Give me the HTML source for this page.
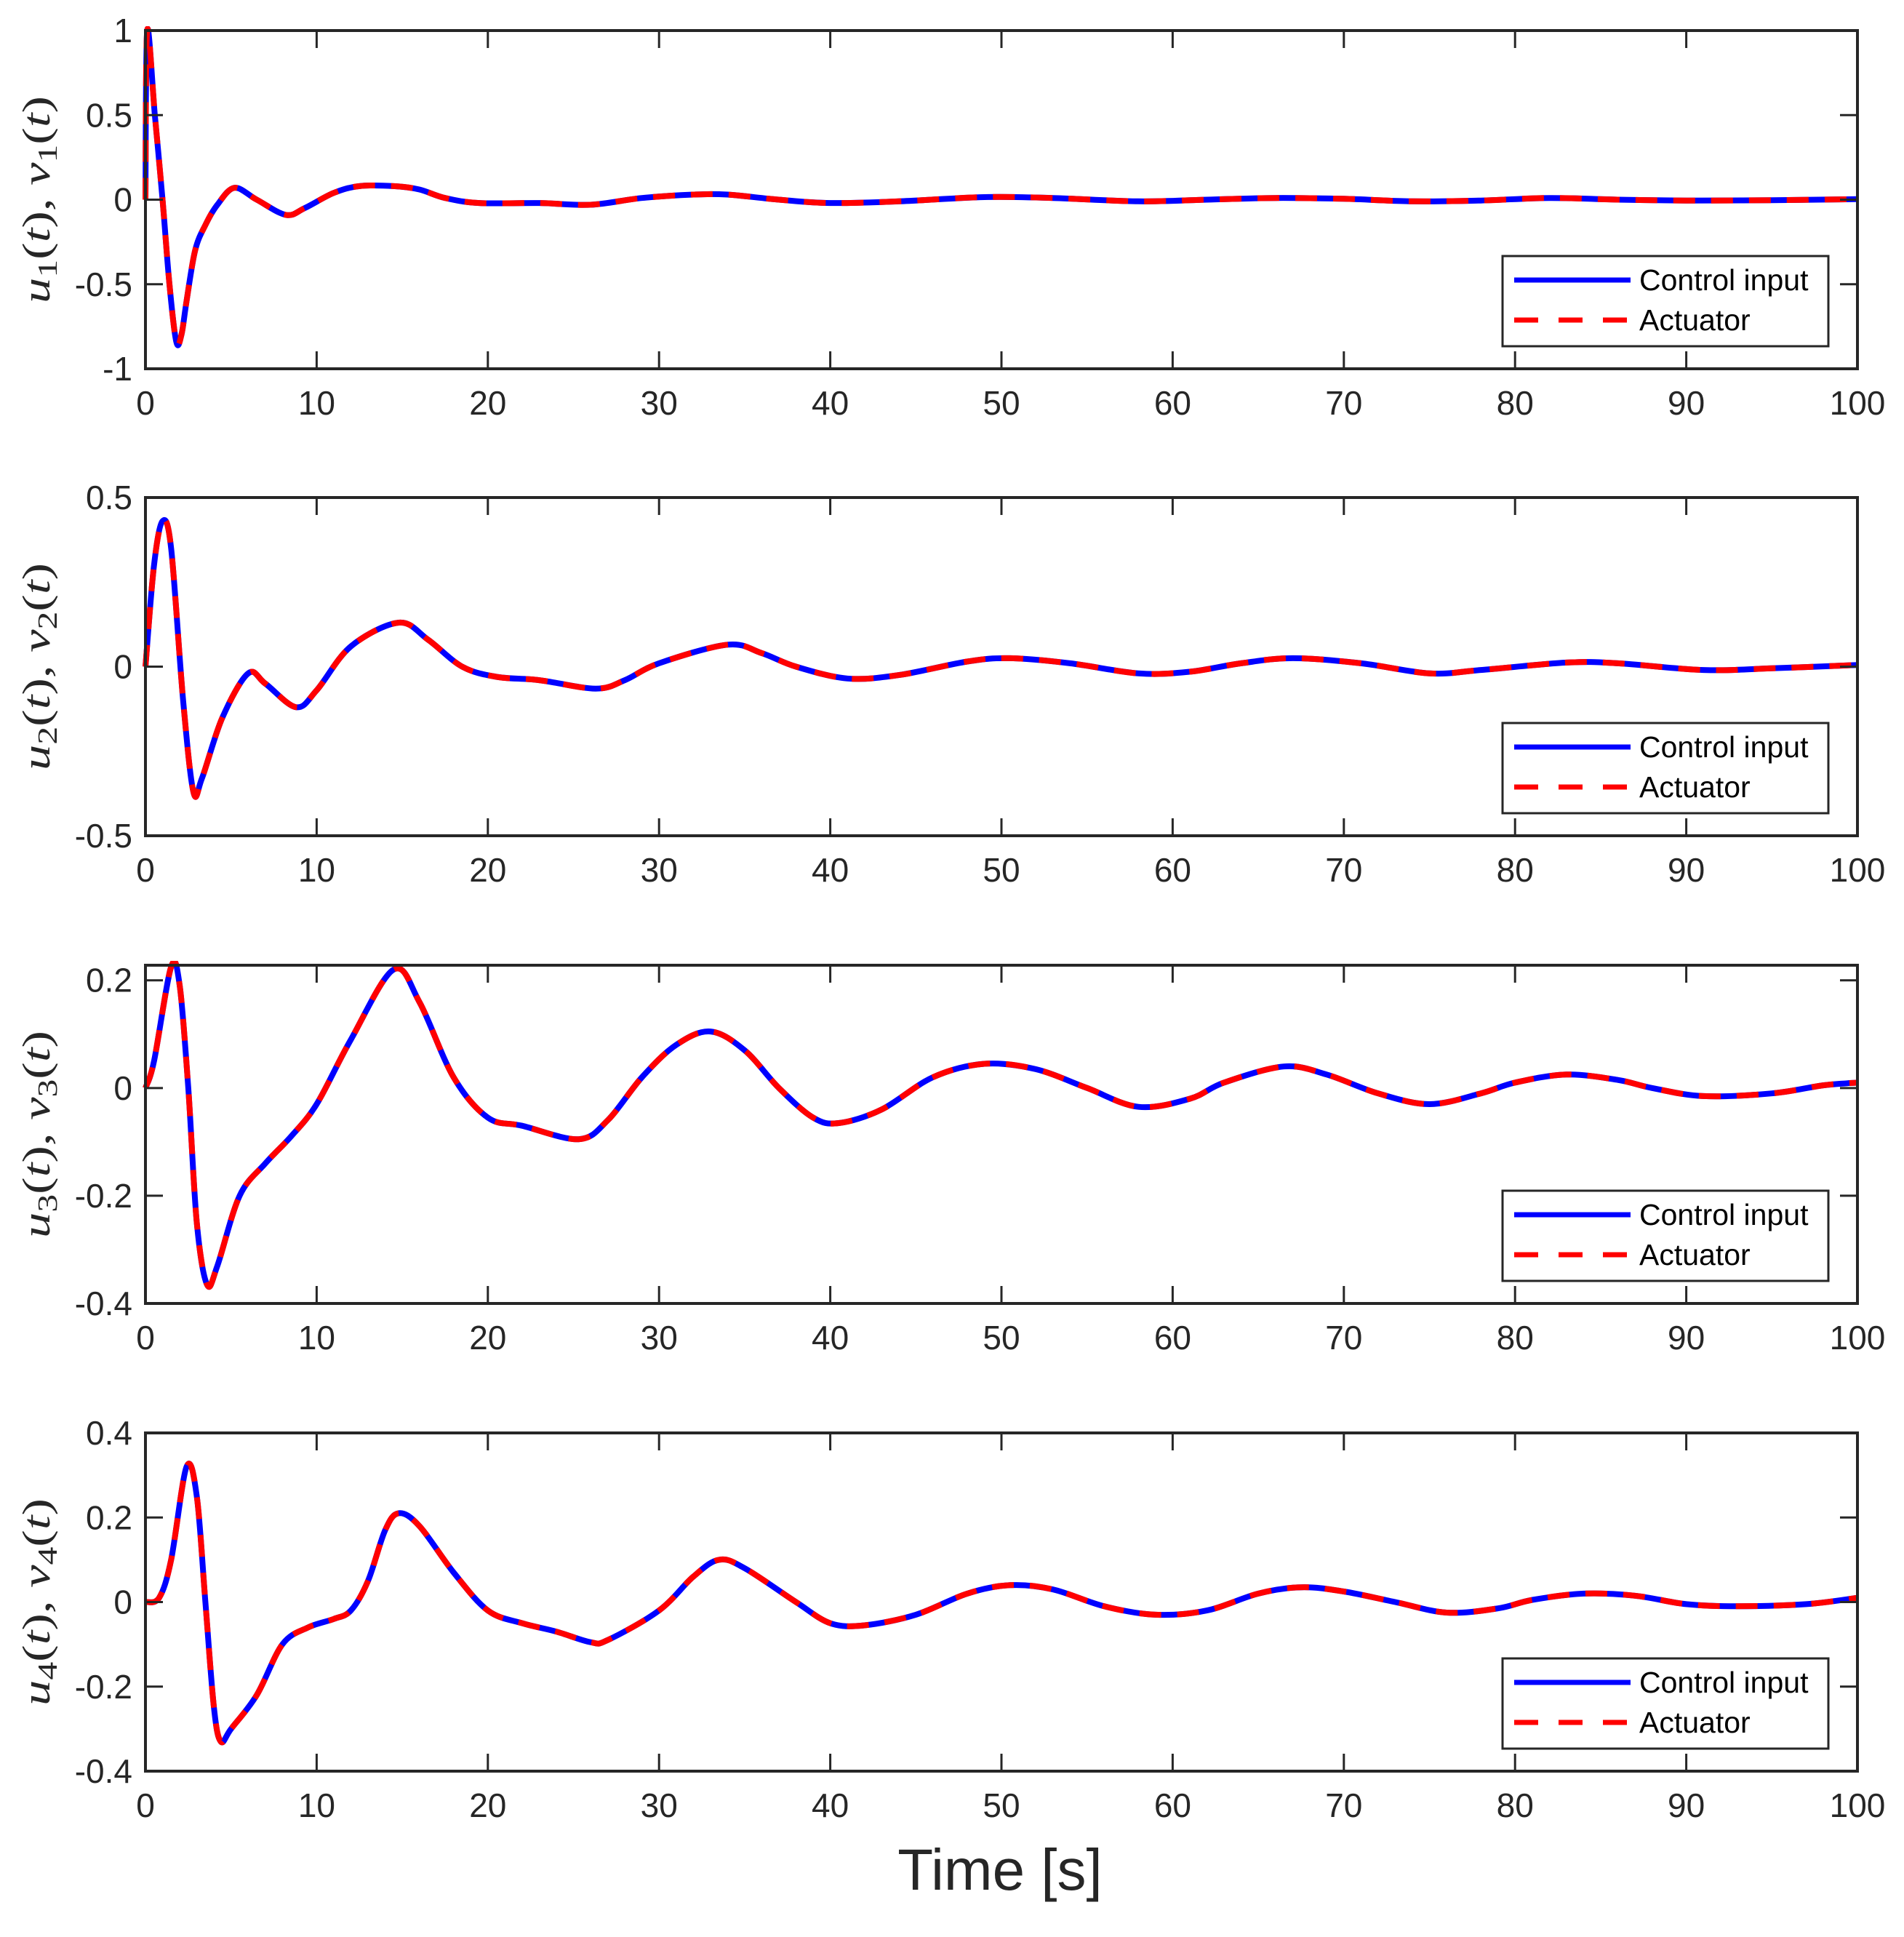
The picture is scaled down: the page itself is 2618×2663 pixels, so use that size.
<!DOCTYPE html>
<html><head><meta charset="utf-8"><style>
html,body{margin:0;padding:0;background:#fff;}
svg{display:block;}
</style></head><body>
<svg id="fig" width="2618" height="2663" viewBox="0 0 2618 2663" xmlns="http://www.w3.org/2000/svg"></svg>
<script>
// ---- data ----
const xTicks = [0,10,20,30,40,50,60,70,80,90,100];
const p1T = [0,0.1,0.55,1.0,1.4,1.8,2.1,2.4,2.9,3.5,4.2,5.2,6.5,8.2,9.3,11,12.5,14.5,16,17.5,19.5,23,26,29,32,34,37,40,44,49,53,58,62,66,70,74,78,82,86,90,95,100];
const p1V = [0,1.0,0.5,0.0,-0.5,-0.84,-0.8,-0.6,-0.3,-0.15,-0.03,0.07,0.0,-0.09,-0.05,0.04,0.08,0.08,0.06,0.01,-0.02,-0.02,-0.03,0.01,0.03,0.03,0.0,-0.02,-0.01,0.015,0.01,-0.01,0.0,0.01,0.005,-0.01,-0.005,0.01,0.0,-0.005,-0.003,0.003];
const p2T = [0,0.5,1.0,1.5,2.2,2.8,3.3,4.5,6.0,7.0,8.8,10,12,14.8,16.5,18.5,20.5,23,26.3,28,30,34,36,38,41,44,48,50.5,54,58,61,64,67,71,75,78,83,86,91,95,100];
const p2V = [0,0.3,0.43,0.35,-0.1,-0.37,-0.33,-0.15,-0.02,-0.05,-0.12,-0.07,0.06,0.13,0.08,0.0,-0.03,-0.04,-0.065,-0.04,0.01,0.065,0.04,0.0,-0.035,-0.025,0.015,0.025,0.01,-0.02,-0.015,0.01,0.025,0.01,-0.02,-0.01,0.012,0.01,-0.01,-0.005,0.005];
const p3T = [0,0.5,1.5,2.0,2.5,3.0,3.6,4.2,5.5,7,8.5,10,12,14.5,16,18,20,22,25.3,27,29,31,33,35,37,39,40.5,43,46,49,52,55,58,61,63,66.5,69,72,75,78,80,83,86,88,91,95,98,100];
const p3V = [0,0.05,0.225,0.19,0.0,-0.25,-0.365,-0.33,-0.2,-0.14,-0.09,-0.03,0.09,0.22,0.16,0.02,-0.055,-0.07,-0.095,-0.06,0.02,0.08,0.105,0.07,0.0,-0.055,-0.065,-0.04,0.02,0.045,0.035,0.0,-0.035,-0.02,0.01,0.04,0.025,-0.01,-0.03,-0.01,0.01,0.025,0.015,0.0,-0.015,-0.01,0.005,0.01];
const p4T = [0,0.8,1.5,2.4,3.0,3.5,4.0,4.4,5.0,6.5,8,9.5,11,12,13,14,14.8,16,18,20,22,24,26,27,30,32,33.5,35,38,40,42,45,48,50.5,53,56,59,62,65,67.5,70,73,76,79,81,84,87,90,93,97,100];
const p4V = [0,0.01,0.1,0.32,0.25,0.0,-0.25,-0.33,-0.3,-0.22,-0.1,-0.06,-0.04,-0.02,0.05,0.17,0.21,0.18,0.07,-0.02,-0.05,-0.07,-0.095,-0.09,-0.02,0.06,0.1,0.08,0.0,-0.05,-0.055,-0.03,0.02,0.04,0.03,-0.01,-0.03,-0.02,0.02,0.035,0.025,0.0,-0.025,-0.015,0.005,0.02,0.015,-0.005,-0.01,-0.005,0.01];
const yTicks1 = [-1,-0.5,0,0.5,1];
const yTicks2 = [-0.5,0,0.5];
const yTicks3 = [-0.4,-0.2,0,0.2];
const yTicks4 = [-0.4,-0.2,0,0.2,0.4];
const legendLabels = ["Control input","Actuator"];

const NS="http://www.w3.org/2000/svg";
const svg=document.getElementById('fig');
function mk(tag,attrs,parent){const e=document.createElementNS(NS,tag);for(const k in attrs)e.setAttribute(k,attrs[k]);(parent||svg).appendChild(e);return e;}

const X0=200,X1=2554,H=465;
const panels=[
 {top:42,ymin:-1,ymax:1,ticks:yTicks1,T:p1T,V:p1V,n:1},
 {top:684,ymin:-0.5,ymax:0.5,ticks:yTicks2,T:p2T,V:p2V,n:2},
 {top:1327,ymin:-0.4,ymax:0.228,ticks:yTicks3,T:p3T,V:p3V,n:3},
 {top:1970,ymin:-0.4,ymax:0.4,ticks:yTicks4,T:p4T,V:p4V,n:4}
];
function fmt(v){return (Math.round(v*10)/10).toString();}

panels.forEach(p=>{
  const xs=t=>X0+(t/100)*(X1-X0);
  const ys=v=>p.top+H-(v-p.ymin)/(p.ymax-p.ymin)*H;
  const g=mk('g',{});
  
  
  const pts=p.T.map((t,i)=>[xs(t),ys(p.V[i])]);
  let d='M'+pts[0][0].toFixed(1)+','+pts[0][1].toFixed(1);
  for(let i=0;i<pts.length-1;i++){
    const p0=pts[Math.max(0,i-1)],p1=pts[i],p2=pts[i+1],p3=pts[Math.min(pts.length-1,i+2)];
    const c1=[p1[0]+(p2[0]-p0[0])/6,p1[1]+(p2[1]-p0[1])/6];
    const c2=[p2[0]-(p3[0]-p1[0])/6,p2[1]-(p3[1]-p1[1])/6];
    d+=' C'+c1[0].toFixed(1)+','+c1[1].toFixed(1)+' '+c2[0].toFixed(1)+','+c2[1].toFixed(1)+' '+p2[0].toFixed(1)+','+p2[1].toFixed(1);
  }
  const cl=mk('clipPath',{id:'clip'+p.n},g);
  mk('rect',{x:X0-6,y:p.top-6,width:X1-X0+12,height:H+12},cl);
  const b=mk('path',{d:d,fill:'none',stroke:'#0000ff','stroke-width':8,'stroke-linejoin':'round','clip-path':'url(#clip'+p.n+')'},g);
  
  
  const r=mk('path',{d:d,fill:'none',stroke:'#ff0000','stroke-width':8,'stroke-dasharray':'30 22','clip-path':'url(#clip'+p.n+')'},g);
  
  
  const bx=mk('rect',{x:X0,y:p.top,width:X1-X0,height:H,fill:'none',stroke:'#262626','stroke-width':4},g);
  
  
  xTicks.forEach(t=>{
    const x=xs(t);
    mk('line',{x1:x,y1:p.top+H,x2:x,y2:p.top+H-24,stroke:'#262626','stroke-width':3},g);
    mk('line',{x1:x,y1:p.top,x2:x,y2:p.top+24,stroke:'#262626','stroke-width':3},g);
    const tx=mk('text',{x:x,y:p.top+H+63,'text-anchor':'middle','font-family':'Liberation Sans, sans-serif','font-size':46,fill:'#262626'},g);
    tx.textContent=t;
    
    
  });
  p.ticks.forEach(v=>{
    const y=ys(v);
    mk('line',{x1:X0,y1:y,x2:X0+24,y2:y,stroke:'#262626','stroke-width':3},g);
    mk('line',{x1:X1,y1:y,x2:X1-24,y2:y,stroke:'#262626','stroke-width':3},g);
    const ty=mk('text',{x:X0-18,y:y+16,'text-anchor':'end','font-family':'Liberation Sans, sans-serif','font-size':46,fill:'#262626'},g);
    ty.textContent=fmt(v);
    
    
  });
  const cy=p.top+H/2;
  const yl=mk('text',{x:0,y:0,transform:'translate(68,'+cy+') rotate(-90)','text-anchor':'middle','font-family':'Liberation Serif, serif','font-style':'italic','font-size':54,fill:'#262626',textLength:285,lengthAdjust:'spacingAndGlyphs'},g);
  yl.innerHTML='u<tspan font-style="normal" font-size="38" dy="10">'+p.n+'</tspan><tspan dy="-10" font-style="normal">(</tspan>t<tspan font-style="normal">), </tspan>v<tspan font-style="normal" font-size="38" dy="10">'+p.n+'</tspan><tspan dy="-10" font-style="normal">(</tspan>t<tspan font-style="normal">)</tspan>';
  
  
  const lg=mk('g',{},g);
  
  
  const ly=p.top+310;
  mk('rect',{x:2066,y:ly,width:448,height:124,fill:'#fff',stroke:'#262626','stroke-width':3},lg);
  mk('line',{x1:2082,y1:ly+33,x2:2242,y2:ly+33,stroke:'#0000ff','stroke-width':7},lg);
  mk('line',{x1:2082,y1:ly+88,x2:2242,y2:ly+88,stroke:'#ff0000','stroke-width':7,'stroke-dasharray':'33 28'},lg);
  legendLabels.forEach((s,i)=>{
    const lt=mk('text',{x:2254,y:ly+47+i*55,'font-family':'Liberation Sans, sans-serif','font-size':41,fill:'#000'},lg);
    lt.textContent=s;
    
    
  });
});
const xl=mk('text',{x:1375,y:2598,'text-anchor':'middle','font-family':'Liberation Sans, sans-serif','font-size':80,fill:'#262626'});
xl.textContent='Time [s]';


</script>
</body></html>
